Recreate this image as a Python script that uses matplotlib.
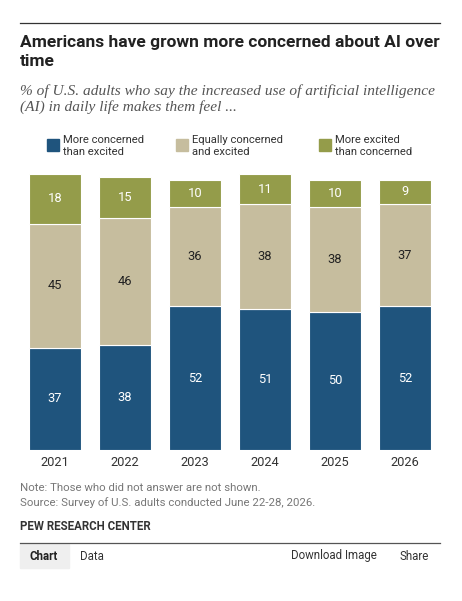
import matplotlib.pyplot as plt
import numpy as np

# Data
years = ['2021', '2022', '2023', '2024', '2025', '2026']
more_concerned = [37, 38, 52, 51, 50, 52]
equally = [45, 46, 36, 38, 38, 37]
more_excited = [18, 15, 10, 11, 10, 9]

series_names = ['More concerned\nthan excited', 'Equally concerned\nand excited', 'More excited\nthan concerned']
colors = ['#1f547d', '#c6bd9e', '#949c4a']
text_colors = ['white', '#222222', 'white']

W, H = 462, 601
plt.rcParams['font.family'] = ['Roboto', 'DejaVu Sans']

fig = plt.figure(figsize=(W / 100, H / 100), dpi=100)


def fx(px):
    return px / W


def fy(py):
    return 1 - py / H


# top rule
fig.add_artist(plt.Line2D([fx(20), fx(440)], [fy(23), fy(23)], color='#333333', lw=0.9))

# title and subtitle
fig.text(fx(20), fy(35), 'Americans have grown more concerned about AI over\ntime',
         fontsize=12.5, fontweight='bold', color='#222222', va='top', ha='left',
         linespacing=1.33)
fig.text(fx(20), fy(84), '% of U.S. adults who say the increased use of artificial intelligence\n(AI) in daily life makes them feel ...',
         fontsize=11.1, fontstyle='italic', family='Liberation Serif', color='#555555',
         va='top', ha='left', linespacing=1.25)

# legend
leg_x = [47, 176, 319]
for i, name in enumerate(series_names):
    fig.patches.append(plt.Rectangle((fx(leg_x[i]), fy(151)), fx(12), 12 / H,
                                     transform=fig.transFigure, color=colors[i]))
    fig.text(fx(leg_x[i] + 16), fy(146), name, fontsize=8.1, color='#333333',
             va='center', ha='left', linespacing=1.22)

# bars
ax = fig.add_axes([fx(20), fy(450), fx(420), 276 / H])
x = np.arange(len(years))
bottoms = np.zeros(len(years))
for vals, c, tc in zip([more_concerned, equally, more_excited], colors, text_colors):
    vals = np.array(vals)
    ax.bar(x, vals, bottom=bottoms, width=0.743, color=c, edgecolor='white', linewidth=0.8)
    for xi, b, v in zip(x, bottoms, vals):
        ax.text(xi, b + v / 2, str(v), ha='center', va='center', fontsize=9.3, color=tc)
    bottoms = bottoms + vals

ax.set_xlim(-0.5, len(years) - 0.5)
ax.set_ylim(0, 100)
ax.axis('off')
for xi, yr in zip(x, years):
    fig.text(fx(55 + 70 * xi), fy(462), yr, ha='center', va='center', fontsize=9.3, color='#333333')

# notes
fig.text(fx(20), fy(488), 'Note: Those who did not answer are not shown.', fontsize=8.2,
         color='#777777', va='center', ha='left')
fig.text(fx(20), fy(503), 'Source: Survey of U.S. adults conducted June 22-28, 2026.', fontsize=8.2,
         color='#777777', va='center', ha='left')
fig.text(fx(20), fy(527), 'PEW RESEARCH CENTER', fontsize=8.3, fontweight='bold',
         color='#333333', va='center', ha='left')

# bottom toolbar
fig.add_artist(plt.Line2D([fx(20), fx(440)], [fy(543), fy(543)], color='#555555', lw=0.9))
fig.patches.append(plt.Rectangle((fx(20), fy(568)), fx(49), 24 / H,
                                 transform=fig.transFigure, color='#efefef'))
fig.text(fx(30), fy(556), 'Chart', fontsize=8.3, fontweight='bold', color='#222222', va='center')
fig.text(fx(80), fy(556), 'Data', fontsize=8.3, color='#333333', va='center')
fig.text(fx(291), fy(556), 'Download Image', fontsize=8.3, color='#333333', va='center')
fig.text(fx(399), fy(556), 'Share', fontsize=8.3, color='#333333', va='center')

fig.savefig('out.png', dpi=100)
